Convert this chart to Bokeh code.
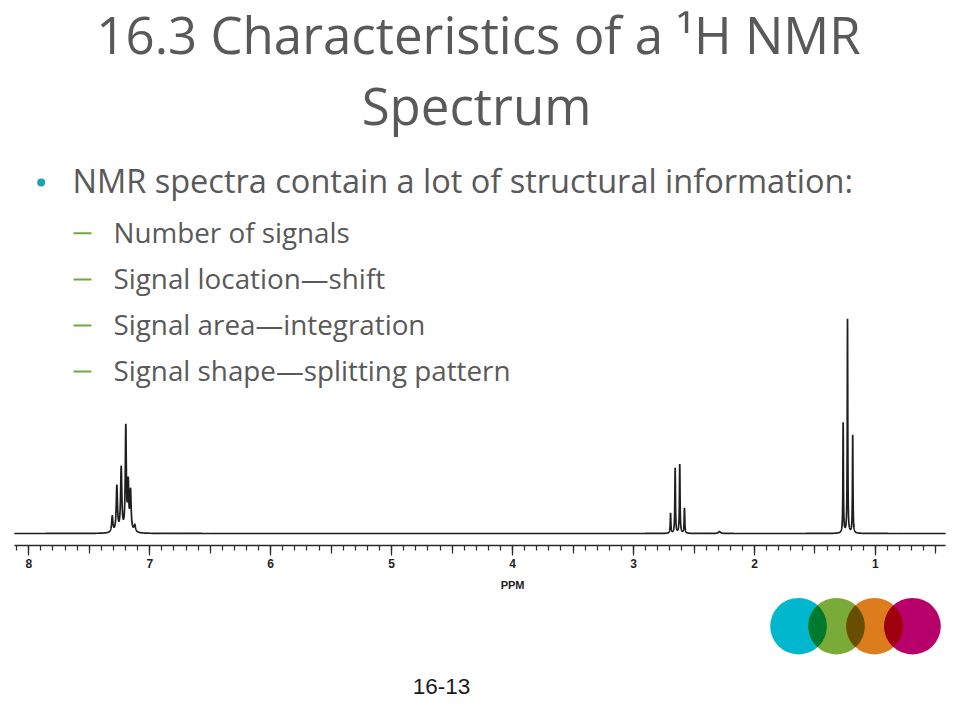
import numpy as np
from bokeh.plotting import figure
from bokeh.models import (Range1d, LinearAxis, SingleIntervalTicker,
                          CustomJSTickFormatter)
from bokeh.core.properties import value
from bokeh.embed import file_html
from bokeh.resources import INLINE

# ---------------- data ----------------
title_lines = ["16.3 Characteristics of a \u00b9H NMR", "Spectrum"]
bullet_main = "NMR spectra contain a lot of structural information:"
sub_items = ["Number of signals",
             "Signal location\u2014shift",
             "Signal area\u2014integration",
             "Signal shape\u2014splitting pattern"]
footer_text = "16-13"
axis_label_text = "PPM"

# peak lists (ppm, height in arbitrary units, half width in ppm)
arom_ppm = [7.310, 7.272, 7.236, 7.198, 7.178, 7.159, 7.124]
arom_h = [16, 46, 64, 104, 46, 40, 7]
arom_w = [0.006, 0.006, 0.006, 0.005, 0.005, 0.006, 0.008]
ch2_ppm = [2.694, 2.656, 2.618, 2.579]
ch2_h = [20, 65, 69, 25]
ch2_w = [0.003, 0.003, 0.003, 0.003]
ch3_ppm = [1.267, 1.231, 1.188]
ch3_h = [110, 214, 98]
ch3_w = [0.0025, 0.0025, 0.0025]
minor_ppm = [2.29]
minor_h = [2]
minor_w = [0.01]

ppm_lo, ppm_hi = 0.42, 8.12

logo_colors = ["#00b7cd", "#7aab38", "#dd7c1d", "#b7006a"]
overlap_colors = ["#007a2c", "#664f00", "#9e000e"]

# ---------------- spectrum curve from peak lists ----------------
all_ppm = np.array(arom_ppm + ch2_ppm + ch3_ppm + minor_ppm)
all_h = np.array(arom_h + ch2_h + ch3_h + minor_h, dtype=float)
all_w = np.array(arom_w + ch2_w + ch3_w + minor_w)
grid = np.arange(ppm_lo, ppm_hi, 0.0004)
xs = np.sort(np.concatenate([grid, all_ppm]))[::-1]
ys = np.zeros_like(xs)
for c, h, w in zip(all_ppm, all_h, all_w):
    ys += h / (1.0 + ((xs - c) / w) ** 2)

# ---------------- figure (pixel coordinates for the slide) ----------------
p = figure(width=960, height=720, x_range=Range1d(0, 960), y_range=Range1d(720, 0),
           x_axis_type=None, y_axis_type=None, toolbar_location=None,
           output_backend="svg", min_border=0, outline_line_color=None)
p.background_fill_color = "white"
p.border_fill_color = "white"
p.grid.visible = False

px_per_ppm = 120.95
x_of_8 = 28.3
p.extra_x_ranges = {"ppm": Range1d(start=8 + x_of_8 / px_per_ppm,
                                   end=8 - (960 - x_of_8) / px_per_ppm)}
base_y = 533.0
p.extra_y_ranges = {"int": Range1d(start=-(720 - base_y), end=base_y)}

# spectrum
p.line(xs, ys, x_range_name="ppm", y_range_name="int",
       line_color="#1e1e1e", line_width=1.7)

# axis with 0.1 / 0.5 ticks
ax1 = LinearAxis(x_range_name="ppm", fixed_location=545, bounds=(ppm_lo, ppm_hi),
                 ticker=SingleIntervalTicker(interval=0.5, num_minor_ticks=5),
                 formatter=CustomJSTickFormatter(code="return ''"),
                 major_tick_in=0, major_tick_out=8, minor_tick_in=0, minor_tick_out=5,
                 axis_line_color="#2a2a2a", axis_line_width=1.5,
                 major_tick_line_color="#2a2a2a", major_tick_line_width=1.2,
                 minor_tick_line_color="#2a2a2a", minor_tick_line_width=1.2)
p.add_layout(ax1, "below")
# integer ticks with labels
ax2 = LinearAxis(x_range_name="ppm", fixed_location=545, bounds=(ppm_lo, ppm_hi),
                 ticker=SingleIntervalTicker(interval=1, num_minor_ticks=0),
                 major_tick_in=0, major_tick_out=10, minor_tick_out=0,
                 axis_line_color=None, minor_tick_line_color=None,
                 major_tick_line_color="#2a2a2a", major_tick_line_width=1.2,
                 major_label_standoff=3,
                 major_label_text_font="Liberation Sans",
                 major_label_text_font_size="12px",
                 major_label_text_font_style="bold",
                 major_label_text_color="#222222")
p.add_layout(ax2, "below")

p.text(x=[4.0], y=[584], text=[axis_label_text], x_range_name="ppm",
       text_font=value("Liberation Sans"), text_font_size="11px",
       text_font_style="bold", text_color="#222222",
       text_align="center", text_baseline="alphabetic")

# title
p.text(x=[478], y=[33], text=[title_lines[0]], text_font=value("Open Sans"),
       text_font_size="51px", text_color="#595959",
       text_align="center", text_baseline="alphabetic")
p.text(x=[476], y=[104], text=[title_lines[1]], text_font=value("Open Sans"),
       text_font_size="51px", text_color="#595959",
       text_align="center", text_baseline="alphabetic")

# bullet + text
p.circle(x=[40.7], y=[182], radius=4, fill_color="#1aa3b6", line_color=None)
p.text(x=[72], y=[179.5], text=[bullet_main], text_font=value("Open Sans"),
       text_font_size="32.5px", text_color="#595959",
       text_align="left", text_baseline="alphabetic")

dash_y = [232.7, 279, 325, 371]
p.segment(x0=[73] * 4, x1=[91] * 4, y0=dash_y, y1=dash_y,
          line_color="#70a83c", line_width=2)
p.text(x=[113] * 4, y=[d - 1.5 for d in dash_y], text=sub_items,
       text_font=value("Open Sans"), text_font_size="27.8px", text_color="#595959",
       text_align="left", text_baseline="alphabetic")

# footer
p.text(x=[441], y=[686], text=[footer_text], text_font=value("Liberation Sans"),
       text_font_size="22.5px", text_color="#1a1a1a",
       text_align="center", text_baseline="alphabetic")

# logo circles
cx = [798, 836, 874, 912]
cy = 625.7
r = 28.3
p.circle(x=cx, y=[cy] * 4, radius=r, fill_color=logo_colors, line_color=None)
lens_xs, lens_ys = [], []
for i in range(3):
    d = cx[i + 1] - cx[i]
    a = np.arccos((d / 2) / r)
    t1 = np.linspace(-a, a, 40)
    t2 = np.linspace(np.pi - a, np.pi + a, 40)
    lx = np.concatenate([cx[i] + r * np.cos(t1), cx[i + 1] + r * np.cos(t2)])
    ly = np.concatenate([cy + r * np.sin(t1), cy + r * np.sin(t2)])
    lens_xs.append(lx.tolist())
    lens_ys.append(ly.tolist())
p.patches(lens_xs, lens_ys, fill_color=overlap_colors, line_color=None)

open("out.html", "w").write(file_html(p, INLINE))
